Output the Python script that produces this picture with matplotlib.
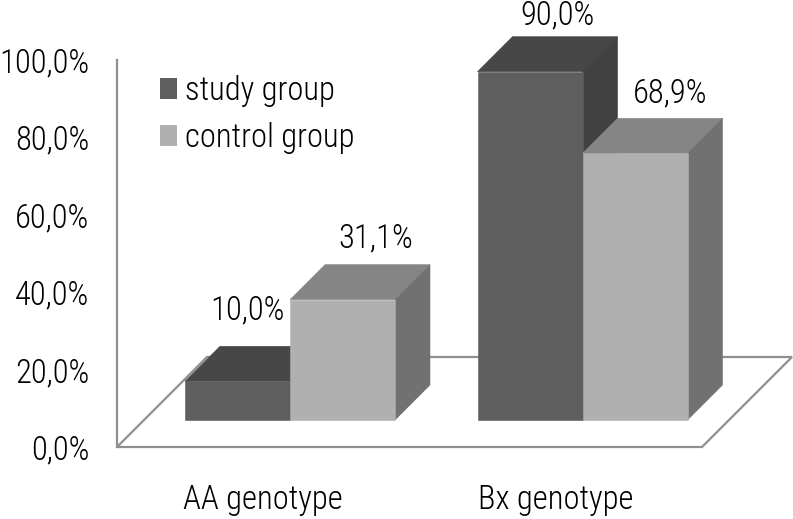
import matplotlib
matplotlib.use('Agg')
import matplotlib.pyplot as plt
from matplotlib.patches import Polygon, Patch

# data
categories = ['AA genotype', 'Bx genotype']
study_group = [10.0, 90.0]
control_group = [31.1, 68.9]
y_ticks = [0, 20, 40, 60, 80, 100]

# label shift from the top back edge of each bar, in pixels
study_shift = [(-25, 36), (-7, 21)]
control_shift = [(-2, 26), (0, 25)]

# fake 3d geometry, all in pixels on the figure
W, H = 793, 519
LEFT, FLOOR_Y, TOP_Y = 117, 447, 60
PX_X = 292.5
PX_Y = (FLOOR_Y - TOP_Y) / 100
FIRST_TICK = 263
GAP = 27
DEPTH = 35
FLOOR_DEPTH = 90
BAR_W = 105 / PX_X

plt.rcParams['font.family'] = ['Roboto Condensed', 'DejaVu Sans']
plt.rcParams['font.weight'] = 300
plt.rcParams['axes.unicode_minus'] = False

STUDY = ('#5e5e5e', '#474747', '#414141')
CONTROL = ('#b0b0b0', '#858585', '#717171')
FLOOR = '#8f8f8f'
TEXT = '#000000'
FS = 23.5

fig = plt.figure(figsize=(W / 100, H / 100), dpi=100)
ax = fig.add_axes([LEFT / W, (H - FLOOR_Y) / H, (W - LEFT) / W, (FLOOR_Y - TOP_Y) / H])
ax.set_xlim((LEFT - FIRST_TICK) / PX_X, (W - FIRST_TICK) / PX_X)
ax.set_ylim(0, 100)


def shift(x, y, depth):
    # move a point back along the depth direction
    return (x + depth / PX_X, y + depth / PX_Y)


# floor
x0 = (LEFT - FIRST_TICK) / PX_X
x1 = x0 + 2
ax.add_patch(Polygon([(x0, 0), (x1, 0), shift(x1, 0, FLOOR_DEPTH), shift(x0, 0, FLOOR_DEPTH)],
                     closed=True, fill=False, edgecolor=FLOOR, linewidth=1.6, clip_on=False, zorder=1))


def draw_bar(left, value, colors, z):
    right = left + BAR_W
    bl = shift(left, 0, GAP)
    br = shift(right, 0, GAP)
    tl = shift(left, value, GAP)
    tr = shift(right, value, GAP)
    front = [bl, br, tr, tl]
    top = [tl, tr, shift(*tr, DEPTH), shift(*tl, DEPTH)]
    side = [br, shift(*br, DEPTH), shift(*tr, DEPTH), tr]
    for pts, c in zip((top, side, front), (colors[1], colors[2], colors[0])):
        ax.add_patch(Polygon(pts, closed=True, facecolor=c, edgecolor=c, linewidth=0.4, clip_on=False, zorder=z))
    return shift(*shift(left + BAR_W / 2, value, GAP), DEPTH)


for i in range(len(categories)):
    p1 = draw_bar(i - BAR_W, study_group[i], STUDY, 2)
    p2 = draw_bar(i, control_group[i], CONTROL, 3)
    ax.annotate(f'{study_group[i]:.1f}%'.replace('.', ','), p1, xytext=study_shift[i], textcoords='offset pixels',
                ha='center', va='center', fontsize=FS, color=TEXT, annotation_clip=False, zorder=5)
    ax.annotate(f'{control_group[i]:.1f}%'.replace('.', ','), p2, xytext=control_shift[i], textcoords='offset pixels',
                ha='center', va='center', fontsize=FS, color=TEXT, annotation_clip=False, zorder=5)

# axes
ax.set_yticks(y_ticks)
ax.set_yticklabels([f'{v:.1f}%'.replace('.', ',') for v in y_ticks], fontsize=FS, color=TEXT)
ax.set_xticks(range(len(categories)))
ax.set_xticklabels(categories, fontsize=FS, color=TEXT)
ax.tick_params(axis='both', length=0)
ax.tick_params(axis='y', pad=20)
ax.tick_params(axis='x', pad=27)
for s in ['top', 'right', 'bottom']:
    ax.spines[s].set_visible(False)
ax.spines['left'].set_color(FLOOR)
ax.spines['left'].set_linewidth(1.6)
ax.patch.set_alpha(0)

handles = [Patch(facecolor=STUDY[0], label='study group'), Patch(facecolor=CONTROL[0], label='control group')]
px = FS * 100 / 72
ax.legend(handles=handles, loc='upper left', bbox_to_anchor=(160 / W, (H - 75) / H), bbox_transform=fig.transFigure,
          frameon=False, fontsize=FS, handlelength=17 / px, handleheight=20 / px, handletextpad=8 / px,
          labelspacing=14.5 / px, borderaxespad=0, borderpad=0, labelcolor=TEXT)

fig.savefig('out.png', dpi=100)
